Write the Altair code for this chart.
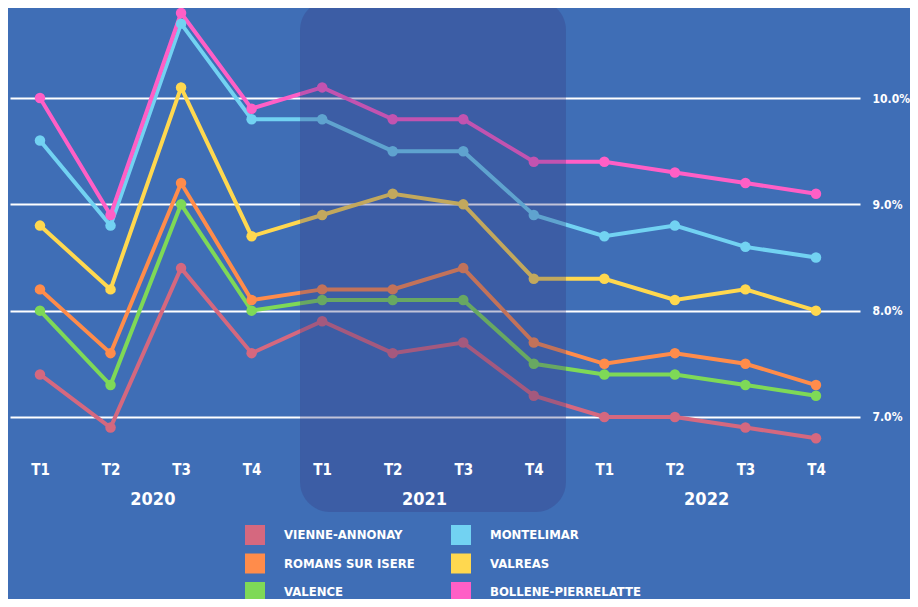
import altair as alt
import pandas as pd

quarters = ["T1", "T2", "T3", "T4"] * 3
years = ["2020", "2021", "2022"]

vienne = [7.4, 6.9, 8.4, 7.6, 7.9, 7.6, 7.7, 7.2, 7.0, 7.0, 6.9, 6.8]
romans = [8.2, 7.6, 9.2, 8.1, 8.2, 8.2, 8.4, 7.7, 7.5, 7.6, 7.5, 7.3]
valence = [8.0, 7.3, 9.0, 8.0, 8.1, 8.1, 8.1, 7.5, 7.4, 7.4, 7.3, 7.2]
montelimar = [9.6, 8.8, 10.7, 9.8, 9.8, 9.5, 9.5, 8.9, 8.7, 8.8, 8.6, 8.5]
valreas = [8.8, 8.2, 10.1, 8.7, 8.9, 9.1, 9.0, 8.3, 8.3, 8.1, 8.2, 8.0]
bollene = [10.0, 8.9, 10.8, 9.9, 10.1, 9.8, 9.8, 9.4, 9.4, 9.3, 9.2, 9.1]

series = {
    "VIENNE-ANNONAY": vienne,
    "ROMANS SUR ISERE": romans,
    "VALENCE": valence,
    "MONTELIMAR": montelimar,
    "VALREAS": valreas,
    "BOLLENE-PIERRELATTE": bollene,
}
colors = {
    "VIENNE-ANNONAY": "#d5687f",
    "ROMANS SUR ISERE": "#ff8c4b",
    "VALENCE": "#7ed957",
    "MONTELIMAR": "#72d2f2",
    "VALREAS": "#ffd84f",
    "BOLLENE-PIERRELATTE": "#ff5fc6",
}
names = list(series.keys())

rows = []
for order, (name, vals) in enumerate(series.items()):
    for i, v in enumerate(vals):
        rows.append({"serie": name, "idx": i, "val": v, "ord": order})
df = pd.DataFrame(rows)

year_df = pd.DataFrame({"year": years, "pos": [1.6, 5.45, 9.45]})
band_df = pd.DataFrame({"x1": [3.686], "x2": [7.456]})

FONT = "'DejaVu Sans Condensed', 'DejaVu Sans', sans-serif"
BG = "#3f6eb6"

xscale = alt.Scale(domain=[-0.425, 11.624], nice=False, zero=False)
yscale = alt.Scale(domain=[6.689, 10.847], nice=False, zero=False)

label_arr = "[" + ",".join(f"'{q}'" for q in quarters) + "]"

lines = alt.Chart(df).mark_line(
    strokeWidth=4,
    point=alt.OverlayMarkDef(size=110, filled=True, opacity=1),
).encode(
    x=alt.X("idx:Q", scale=xscale, axis=alt.Axis(
        values=list(range(12)), labelExpr=f"{label_arr}[datum.value]",
        grid=False, domain=False, ticks=False, labelPadding=12,
        labelFontSize=15, labelColor="white", labelFont=FONT,
        labelFontWeight="bold", title=None, zindex=2)),
    y=alt.Y("val:Q", scale=yscale, axis=alt.Axis(
        orient="right", values=[7, 8, 9, 10],
        labelExpr="format(datum.value, '.1f') + '%'",
        grid=True, gridColor="white", gridWidth=2, gridOpacity=1,
        domain=False, ticks=False, labelPadding=12,
        labelFontSize=12, labelColor="white", labelFont=FONT,
        labelFontWeight="bold", title=None)),
    color=alt.Color("serie:N",
                    scale=alt.Scale(domain=names,
                                    range=[colors[s] for s in names]),
                    legend=alt.Legend(
                        title=None, orient="none", legendX=235, legendY=517,
                        columns=2, symbolType="square", symbolSize=400,
                        symbolStrokeWidth=0, symbolOpacity=1,
                        labelFontSize=13, labelColor="white", labelFont=FONT,
                        labelFontWeight="bold", labelLimit=300,
                        labelOffset=19, rowPadding=8.5, columnPadding=36)),
    order=alt.Order("ord:Q"),
    detail="serie:N",
)

band = alt.Chart(band_df).mark_rect(
    color="#35397d", opacity=0.3, cornerRadius=30
).encode(
    x=alt.X("x1:Q", scale=xscale),
    x2="x2:Q",
    y=alt.value(-8),
    y2=alt.value(504),
)

year_text = alt.Chart(year_df).mark_text(
    color="white", fontSize=18, font=FONT, fontWeight="bold",
    baseline="middle", align="center"
).encode(
    x=alt.X("pos:Q", scale=xscale),
    y=alt.value(492),
    text="year:N",
)

chart = alt.layer(lines, band, year_text).properties(
    width=850, height=442,
    autosize=alt.AutoSizeParams(type="none"),
    padding={"left": 2, "top": 0, "right": 50, "bottom": 149},
    background=BG,
).configure_view(stroke=None)

chart.save("out.html", embed_options={"renderer": "svg", "actions": False})
